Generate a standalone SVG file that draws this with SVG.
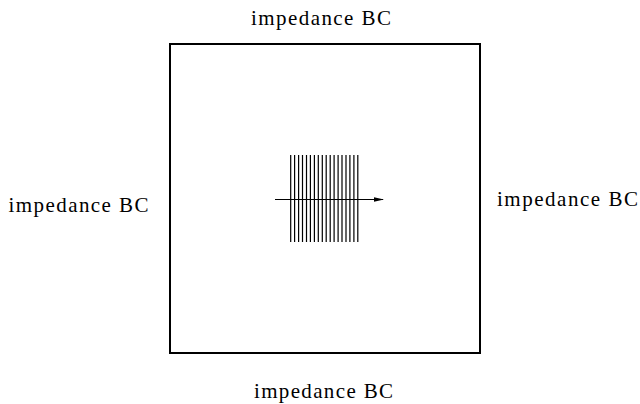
<svg xmlns="http://www.w3.org/2000/svg" width="640" height="404" viewBox="0 0 640 404">
<style>
text{font-family:'Times New Roman','Liberation Serif','DejaVu Serif','Noto Serif',serif;font-size:21px;fill:#000}
.box{fill:none;stroke:#000;stroke-width:2}
.ln{stroke:#000;stroke-width:1.2}
</style>
<defs>
<marker id="ah" markerWidth="10" markerHeight="6" refX="9" refY="3" orient="auto" markerUnits="userSpaceOnUse">
<path d="M0,0.8 L10,3 L0,5.2 Z" fill="#000"/>
</marker>
</defs>
<rect width="640" height="404" fill="#fff"/>
<g id="domain">
<rect class="box" x="170" y="44" width="310" height="309"/>
</g>
<g id="labels">
<text x="251" y="25" textLength="140" lengthAdjust="spacing">impedance BC</text>
<text x="8.5" y="212" textLength="140" lengthAdjust="spacing">impedance BC</text>
<text x="497" y="206" textLength="141" lengthAdjust="spacing">impedance BC</text>
<text x="254" y="398" textLength="139" lengthAdjust="spacing">impedance BC</text>
</g>
<g id="grating">
<path class="ln" d="M290.7,155V242M294.6,155V242M298.6,155V242M302.5,155V242M306.5,155V242M310.4,155V242M314.4,155V242M318.3,155V242M322.3,155V242M326.2,155V242M330.2,155V242M334.1,155V242M338.1,155V242M342,155V242M346,155V242M349.9,155V242M353.9,155V242M357.8,155V242"/>
</g>
<g id="connectors">
<line class="ln" x1="275" y1="199.5" x2="383" y2="199.5" marker-end="url(#ah)"/>
</g>
</svg>
